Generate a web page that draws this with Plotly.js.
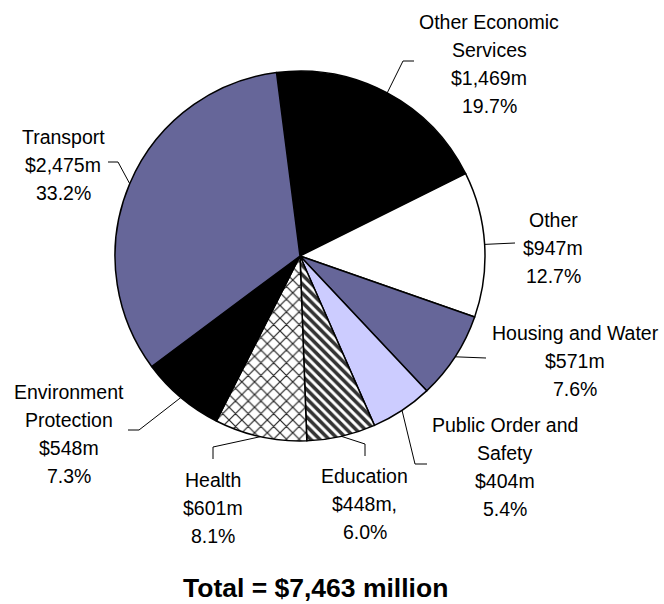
<!DOCTYPE html>
<html>
<head>
<meta charset="utf-8">
<script src="https://cdn.plot.ly/plotly-3.0.1.min.js"></script>
<style>html,body{margin:0;padding:0;background:#fff;}#chart{width:664px;height:604px;}</style>
</head>
<body>
<div id="chart"></div>
<script>
// ---- data ----
var categories = ['Other Economic Services', 'Other', 'Housing and Water', 'Public Order and Safety',
                  'Education', 'Health', 'Environment Protection', 'Transport'];
var values = [1469, 947, 571, 404, 448, 601, 548, 2475];
var labelLines = [['Other Economic', 'Services'], ['Other'], ['Housing and Water'], ['Public Order and', 'Safety'],
                  ['Education'], ['Health'], ['Environment', 'Protection'], ['Transport']];
var amountText = ['$1,469m', '$947m', '$571m', '$404m', '$448m,', '$601m', '$548m', '$2,475m'];
var shareText = ['19.7%', '12.7%', '7.6%', '5.4%', '6.0%', '8.1%', '7.3%', '33.2%'];
var totalText = 'Total = $7,463 million';

// ---- styles ----
var W = 664, H = 604;
var cx = 300, cy = 256, R = 185;
var rotationDeg = -7.3;
var sliceColors = ['#000000', '#ffffff', '#666699', '#ccccff', '#ffffff', '#ffffff', '#000000', '#666699'];
var patShape = ['', '', '', '', '\\', 'x', '', ''];
var patFg = ['#000', '#000', '#000', '#000', '#333333', '#222222', '#000', '#000'];
var patBg = ['#000000', '#ffffff', '#666699', '#ccccff', '#ffffff', '#ffffff', '#000000', '#666699'];
var patSize = [8, 8, 8, 8, 6.5, 9, 8, 8];
var patSolid = [0.3, 0.3, 0.3, 0.3, 0.55, 0.25, 0.3, 0.3];

// label placement (pixel centers, first line) and leader routes (elbow/end points)
var labelPos = [[489, 22], [553, 220], [575, 333], [505, 425], [365, 476], [213, 480], [69, 392], [63, 137]];
var leaderPts = [
  [[403, 61], [414, 61]],
  [[515, 243]],
  [[486, 358]],
  [[415, 464], [427, 464]],
  [[365, 444], [365, 456]],
  [[213, 447], [213, 459]],
  [[139, 430], [128, 430]],
  [[118, 162], [108, 162]]
];
var lineStep = 28;
var labelFont = {family: 'Liberation Sans, Arial, sans-serif', size: 19.5, color: '#000'};

function px(x) { return x / W; }
function py(y) { return 1 - y / H; }

var trace = {
  type: 'pie',
  labels: categories,
  values: values,
  sort: false,
  direction: 'clockwise',
  rotation: rotationDeg,
  textinfo: 'none',
  hoverinfo: 'label+value+percent',
  showlegend: false,
  domain: {x: [px(cx - R), px(cx + R)], y: [py(cy + R), py(cy - R)]},
  marker: {
    colors: sliceColors,
    line: {color: '#000', width: 1.5},
    pattern: {shape: patShape, fgcolor: patFg, bgcolor: patBg, size: patSize, solidity: patSolid, fillmode: 'replace'}
  }
};

// annotations and leader lines
var annotations = [];
var shapes = [];
var total = values.reduce(function (a, b) { return a + b; }, 0);
var acc = 0;
for (var i = 0; i < values.length; i++) {
  var mid = rotationDeg + (acc + values[i] / 2) / total * 360;
  acc += values[i];
  var a = mid * Math.PI / 180;
  var sx = cx + R * Math.sin(a), sy = cy - R * Math.cos(a);
  var path = 'M' + px(sx) + ',' + py(sy);
  leaderPts[i].forEach(function (p) { path += ' L' + px(p[0]) + ',' + py(p[1]); });
  shapes.push({type: 'path', xref: 'paper', yref: 'paper', path: path, line: {color: '#000', width: 1}});

  var lines = labelLines[i].concat([amountText[i], shareText[i]]);
  for (var k = 0; k < lines.length; k++) {
    annotations.push({
      xref: 'paper', yref: 'paper', x: px(labelPos[i][0]), y: py(labelPos[i][1] + k * lineStep),
      xanchor: 'center', yanchor: 'middle', showarrow: false, text: lines[k], font: labelFont
    });
  }
}
annotations.push({
  xref: 'paper', yref: 'paper', x: px(315), y: py(588), xanchor: 'center', yanchor: 'middle',
  showarrow: false, text: '<b>' + totalText + '</b>',
  font: {family: 'Liberation Sans, Arial, sans-serif', size: 26.5, color: '#000'}
});

var layout = {
  width: W, height: H,
  margin: {l: 0, r: 0, t: 0, b: 0},
  paper_bgcolor: '#fff',
  plot_bgcolor: '#fff',
  annotations: annotations,
  shapes: shapes
};

Plotly.newPlot('chart', [trace], layout, {displayModeBar: false, staticPlot: true});
</script>
</body>
</html>
